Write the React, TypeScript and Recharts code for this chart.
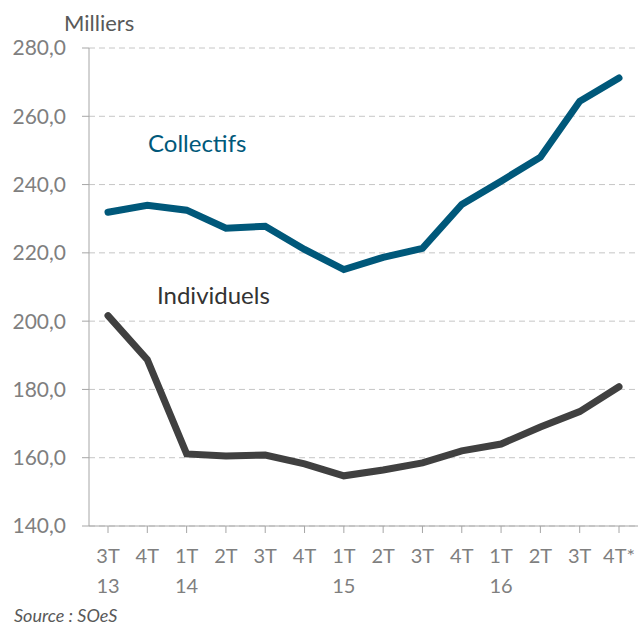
import { LineChart, Line, XAxis, YAxis, CartesianGrid } from 'recharts';

const quarters = ['3T', '4T', '1T', '2T', '3T', '4T', '1T', '2T', '3T', '4T', '1T', '2T', '3T', '4T*'];
const years = ['13', '', '14', '', '', '', '15', '', '', '', '16', '', '', ''];
const collectifs = [231.9, 233.9, 232.5, 227.2, 227.8, 221.0, 215.1, 218.7, 221.3, 234.2, 241.0, 248.0, 264.4, 271.2];
const individuels = [201.6, 188.7, 161.1, 160.5, 160.8, 158.2, 154.7, 156.4, 158.5, 162.0, 164.0, 169.0, 173.5, 180.8];
const yTicks = [140, 160, 180, 200, 220, 240, 260, 280];

const data = quarters.map((q, i) => ({
  key: i,
  q,
  year: years[i],
  collectifs: collectifs[i],
  individuels: individuels[i],
}));

const FONT = 'Lato, "Open Sans", sans-serif';
const GREY = '#7f7f7f';

const QuarterTick = ({ x, y, payload }: any) => {
  const d = data[payload.index];
  return (
    <text x={x} y={y} textAnchor="middle" fill={GREY} fontSize={20} fontFamily={FONT}>
      <tspan x={x} dy={28}>{d.q}</tspan>
      {d.year ? <tspan x={x} dy={30}>{d.year}</tspan> : null}
    </text>
  );
};

export default function App() {
  return (
    <div style={{ position: 'absolute', left: 0, top: 0, width: 638, height: 630, background: '#fff', fontFamily: FONT, overflow: 'hidden' }}>
      <LineChart width={638} height={630} data={data} margin={{ top: 48, right: 0, left: 0, bottom: 24 }}>
        <CartesianGrid horizontal vertical={false} stroke="#c6c6c6" strokeDasharray="6 4" />
        <XAxis
          dataKey="key"
          interval={0}
          height={80}
          stroke="#a6a6a6"
          tickSize={7}
          padding={{ left: 19, right: 19 }}
          tick={<QuarterTick />}
        />
        <YAxis
          domain={[140, 280]}
          ticks={yTicks}
          width={89}
          stroke="#a6a6a6"
          tickSize={7}
          tickMargin={16}
          tick={{ fill: GREY, fontSize: 21, fontFamily: FONT }}
          tickFormatter={(v: number) => v.toFixed(1).replace('.', ',')}
        />
        <Line dataKey="collectifs" stroke="#00587a" strokeWidth={7} dot={false} strokeLinecap="round" isAnimationActive={false} />
        <Line dataKey="individuels" stroke="#404040" strokeWidth={7} dot={false} strokeLinecap="round" isAnimationActive={false} />
      </LineChart>
      <div style={{ position: 'absolute', left: 64, top: 9, fontSize: 22, color: '#595959' }}>Milliers</div>
      <div style={{ position: 'absolute', left: 148, top: 128, fontSize: 24, color: '#00587a' }}>Collectifs</div>
      <div style={{ position: 'absolute', left: 157, top: 280, fontSize: 24, color: '#333' }}>Individuels</div>
      <div style={{ position: 'absolute', left: 14, top: 604, fontSize: 18, color: '#595959', fontStyle: 'italic' }}>Source : SOeS</div>
    </div>
  );
}
